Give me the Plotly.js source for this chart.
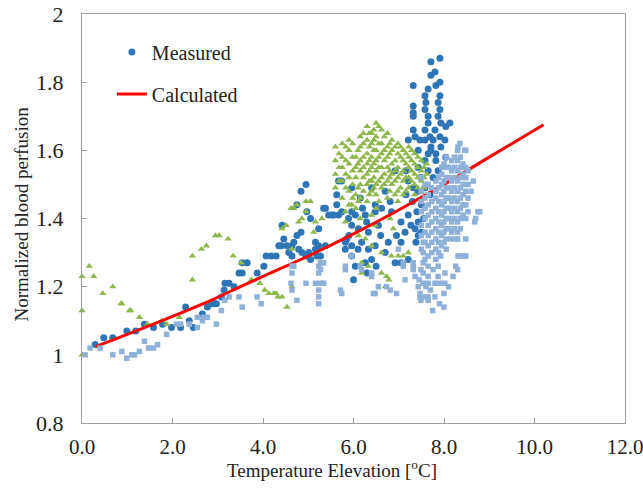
<!DOCTYPE html>
<html>
<head>
<meta charset="utf-8">
<script src="https://cdn.plot.ly/plotly-3.0.1.min.js"></script>
<style>html,body{margin:0;padding:0;background:#fff;}#chart{width:643px;height:493px;}</style>
</head>
<body>
<div id="chart"></div>
<script>
// Measured – dark blue circles [temperature elevation, normalized perfusion]
const measuredCircles = [
[0.29,1.03],[0.48,1.05],[0.68,1.05],[0.99,1.07],[1.19,1.07],[1.38,1.09],[1.58,1.08],[1.78,1.09],[1.98,1.08],[2.18,1.08],
[2.29,1.14],[2.37,1.10],[2.46,1.08],[2.66,1.12],[2.77,1.14],[2.86,1.15],[2.92,1.15],[2.97,1.15],[3.08,1.17],[3.14,1.19],
[3.16,1.21],[3.25,1.21],[3.36,1.20],[3.47,1.24],[3.54,1.24],[3.54,1.27],[3.65,1.27],[3.87,1.24],[4.02,1.26],[4.07,1.29],
[4.18,1.29],[4.29,1.29],[4.35,1.32],[4.40,1.32],[4.42,1.38],[4.46,1.34],[4.53,1.32],[4.57,1.30],[4.64,1.32],[4.64,1.29],
[4.68,1.33],[4.75,1.35],[4.75,1.44],[4.79,1.31],[4.84,1.36],[4.84,1.48],[4.86,1.30],[4.95,1.29],[4.95,1.50],[4.97,1.42],
[5.01,1.30],[5.05,1.40],[5.05,1.28],[5.16,1.33],[5.16,1.31],[5.19,1.29],[5.23,1.37],[5.23,1.32],[5.27,1.29],[5.34,1.43],
[5.38,1.32],[5.38,1.43],[5.45,1.41],[5.52,1.41],[5.56,1.41],[5.63,1.47],[5.63,1.44],[5.67,1.41],[5.67,1.51],[5.74,1.51],
[5.74,1.42],[5.82,1.33],[5.82,1.31],[5.85,1.34],[5.89,1.40],[5.90,1.35],[5.96,1.49],[5.96,1.42],[5.96,1.38],[5.96,1.32],
[5.96,1.29],[6.00,1.22],[6.04,1.41],[6.04,1.26],[6.10,1.31],[6.11,1.37],[6.15,1.46],[6.18,1.33],[6.20,1.43],[6.26,1.41],
[6.26,1.27],[6.29,1.39],[6.30,1.24],[6.33,1.36],[6.33,1.31],[6.40,1.49],[6.40,1.28],[6.48,1.44],[6.48,1.42],[6.48,1.32],
[6.50,1.26],[6.55,1.38],[6.60,1.35],[6.62,1.43],[6.70,1.48],[6.70,1.30],[6.77,1.33],[6.81,1.45],[6.84,1.42],[6.92,1.54],
[6.92,1.27],[6.95,1.35],[7.05,1.33],[7.05,1.39],[7.05,1.27],[7.14,1.36],[7.16,1.54],[7.16,1.47],[7.21,1.41],[7.21,1.28],
[7.21,1.51],[7.21,1.63],[7.27,1.38],[7.30,1.45],[7.32,1.66],[7.32,1.79],[7.32,1.73],[7.32,1.71],[7.32,1.70],[7.32,1.49],
[7.36,1.64],[7.36,1.37],[7.38,1.33],[7.40,1.42],[7.43,1.39],[7.43,1.35],[7.43,1.60],[7.43,1.55],[7.43,1.48],[7.47,1.63],
[7.49,1.52],[7.50,1.44],[7.50,1.36],[7.55,1.40],[7.58,1.76],[7.58,1.72],[7.58,1.66],[7.58,1.63],[7.58,1.57],[7.58,1.49],
[7.60,1.74],[7.65,1.78],[7.65,1.70],[7.65,1.68],[7.65,1.59],[7.65,1.54],[7.69,1.64],[7.69,1.47],[7.71,1.86],[7.71,1.82],
[7.71,1.61],[7.71,1.60],[7.76,1.63],[7.76,1.52],[7.80,1.83],[7.80,1.66],[7.82,1.79],[7.82,1.59],[7.82,1.57],[7.87,1.74],
[7.87,1.70],[7.87,1.54],[7.91,1.87],[7.91,1.80],[7.91,1.76],[7.91,1.72],[7.91,1.64],[7.93,1.68],[7.93,1.61],[8.02,1.63],
[8.04,1.67],[8.04,1.58],[8.13,1.68]
];

// Measured – light blue squares
const measuredSquares = [
[0.07,1.00],[0.18,1.02],[0.40,1.02],[0.68,1.00],[0.88,1.01],[0.99,0.99],[1.10,1.00],[1.16,1.00],[1.27,1.01],[1.38,1.04],
[1.47,1.02],[1.58,1.02],[1.67,1.03],[1.87,1.06],[2.09,1.09],[2.18,1.09],[2.37,1.09],[2.55,1.08],[2.55,1.11],[2.66,1.10],
[2.68,1.11],[2.77,1.11],[2.97,1.09],[3.08,1.13],[3.16,1.16],[3.25,1.17],[3.47,1.17],[3.54,1.14],[3.87,1.17],[3.96,1.15],
[4.62,1.21],[4.64,1.26],[4.64,1.24],[4.64,1.19],[4.68,1.26],[4.75,1.16],[4.95,1.21],[5.16,1.21],[5.23,1.26],[5.23,1.24],
[5.23,1.19],[5.23,1.17],[5.23,1.15],[5.27,1.27],[5.27,1.25],[5.27,1.21],[5.34,1.21],[5.34,1.27],[5.71,1.19],[5.74,1.18],
[5.82,1.25],[5.82,1.26],[5.96,1.29],[6.15,1.26],[6.18,1.25],[6.40,1.23],[6.40,1.24],[6.44,1.18],[6.48,1.18],[6.55,1.20],
[6.73,1.20],[6.81,1.19],[6.95,1.18],[6.99,1.31],[7.10,1.26],[7.10,1.27],[7.14,1.22],[7.32,1.27],[7.32,1.25],[7.32,1.26],
[7.36,1.23],[7.43,1.20],[7.45,1.22],[7.47,1.18],[7.47,1.17],[7.49,1.16],[7.49,1.25],[7.54,1.17],[7.54,1.27],[7.54,1.21],
[7.54,1.33],[7.54,1.30],[7.54,1.24],[7.58,1.28],[7.60,1.20],[7.65,1.16],[7.65,1.17],[7.65,1.23],[7.65,1.21],[7.70,1.19],
[7.75,1.13],[7.76,1.25],[7.80,1.21],[7.80,1.17],[7.87,1.26],[7.87,1.23],[7.90,1.15],[7.91,1.21],[7.93,1.29],[8.00,1.18],
[8.00,1.14],[8.02,1.21],[8.02,1.24],[8.10,1.20],[8.20,1.23],[8.26,1.26],[8.30,1.25],[8.31,1.29],[8.42,1.29],[8.48,1.34],
[8.68,1.39],[8.79,1.42],
[7.50,1.52],[7.50,1.48],[7.50,1.45],[7.50,1.42],[7.50,1.38],[7.50,1.35],[7.50,1.31],
[7.58,1.50],[7.58,1.46],[7.58,1.43],[7.58,1.40],[7.58,1.36],[7.58,1.33],
[7.65,1.50],[7.65,1.47],[7.65,1.44],[7.65,1.41],[7.65,1.38],[7.65,1.35],[7.65,1.32],[7.65,1.29],[7.65,1.26],
[7.73,1.49],[7.73,1.45],[7.73,1.42],[7.73,1.39],[7.73,1.36],[7.73,1.33],[7.73,1.30],
[7.82,1.51],[7.82,1.48],[7.82,1.46],[7.82,1.43],[7.82,1.40],[7.82,1.37],[7.82,1.34],[7.82,1.31],[7.82,1.28],
[7.88,1.52],[7.88,1.49],[7.88,1.45],[7.88,1.42],[7.88,1.39],[7.88,1.36],[7.88,1.33],[7.88,1.30],
[7.95,1.55],[7.95,1.53],[7.95,1.50],[7.95,1.47],[7.95,1.44],[7.95,1.41],[7.95,1.38],[7.95,1.35],[7.95,1.32],
[8.00,1.56],[8.00,1.51],[8.00,1.48],[8.00,1.45],[8.00,1.42],[8.00,1.39],[8.00,1.36],[8.00,1.33],
[8.05,1.58],[8.05,1.55],[8.05,1.52],[8.05,1.49],[8.05,1.46],[8.05,1.43],[8.05,1.40],[8.05,1.37],[8.05,1.34],[8.05,1.31],
[8.11,1.55],[8.11,1.52],[8.11,1.49],[8.11,1.46],[8.11,1.43],[8.11,1.40],[8.11,1.37],
[8.17,1.57],[8.17,1.54],[8.17,1.51],[8.17,1.48],[8.17,1.45],[8.17,1.42],[8.17,1.39],[8.17,1.36],[8.17,1.34],
[8.23,1.58],[8.23,1.55],[8.23,1.52],[8.23,1.49],[8.23,1.46],[8.23,1.43],[8.23,1.40],[8.23,1.37],
[8.30,1.60],[8.30,1.57],[8.30,1.54],[8.30,1.51],[8.30,1.48],[8.30,1.45],[8.30,1.42],[8.30,1.39],[8.30,1.36],[8.30,1.34],
[8.36,1.58],[8.36,1.55],[8.36,1.52],[8.36,1.49],[8.36,1.46],[8.36,1.43],[8.36,1.40],[8.36,1.37],
[8.42,1.56],[8.42,1.53],[8.42,1.50],[8.42,1.47],[8.42,1.44],[8.42,1.41],
[8.48,1.55],[8.48,1.52],[8.48,1.48],[8.48,1.44],[8.48,1.40],
[8.53,1.54],[8.53,1.50],[8.53,1.46],[8.53,1.42],
[8.35,1.62],[8.31,1.61],[8.46,1.60],[8.48,1.60],[8.75,1.42],[8.70,1.40],[8.29,1.34],[8.35,1.29],[8.48,1.29],[8.60,1.48],[8.65,1.51]
];

// Measured – green triangles
const measuredTriangles = [
[0.00,1.00],[0.00,1.23],[0.00,1.13],[0.16,1.26],[0.26,1.23],[0.46,1.18],[0.68,1.20],[0.86,1.15],[0.88,1.15],[1.05,1.13],
[1.08,1.13],[1.27,1.11],[1.45,1.09],[1.76,1.10],[1.87,1.09],[2.15,1.11],[2.44,1.22],[2.44,1.29],[2.64,1.31],[2.75,1.32],
[2.95,1.35],[3.03,1.35],[3.23,1.34],[3.34,1.29],[3.52,1.27],[3.74,1.22],[3.93,1.21],[4.04,1.19],[4.13,1.18],[4.24,1.18],
[4.29,1.18],[4.33,1.17],[4.42,1.17],[4.53,1.14],[4.64,1.20],[4.64,1.31],[4.42,1.37],[4.51,1.38],[4.62,1.43],[4.68,1.43],
[4.75,1.44],[4.79,1.39],[4.86,1.40],[4.95,1.45],[4.95,1.42],[5.05,1.45],[5.12,1.36],[5.16,1.39],[5.30,1.40],[5.82,1.39],
[5.82,1.42],[5.96,1.44],[6.11,1.45],[6.40,1.41],[6.48,1.38],[6.81,1.40],[6.88,1.37],[6.11,1.35],[6.26,1.34],[6.40,1.32],
[6.62,1.30],[6.84,1.29],[6.99,1.29],[7.10,1.29],[7.21,1.30],[6.18,1.27],[6.33,1.26],[6.18,1.24],[6.62,1.24],[6.73,1.23],
[6.70,1.20],[6.78,1.22],
[5.60,1.61],[5.60,1.57],[5.60,1.53],[5.60,1.49],
[5.68,1.59],[5.68,1.55],[5.68,1.51],
[5.75,1.62],[5.75,1.58],[5.75,1.55],[5.75,1.51],[5.75,1.46],
[5.83,1.61],[5.83,1.57],[5.83,1.53],[5.83,1.49],
[5.90,1.63],[5.90,1.60],[5.90,1.56],[5.90,1.52],[5.90,1.48],[5.90,1.44],
[5.98,1.62],[5.98,1.58],[5.98,1.54],[5.98,1.50],[5.98,1.46],
[6.05,1.58],[6.05,1.55],[6.05,1.52],[6.05,1.47],[6.05,1.43],
[6.10,1.60],[6.10,1.56],[6.10,1.49],
[6.15,1.64],[6.15,1.61],[6.15,1.57],[6.15,1.54],[6.15,1.50],[6.15,1.46],[6.15,1.40],
[6.22,1.65],[6.22,1.62],[6.22,1.58],[6.22,1.55],[6.22,1.52],[6.22,1.48],
[6.30,1.67],[6.30,1.63],[6.30,1.59],[6.30,1.56],[6.30,1.53],[6.30,1.50],[6.30,1.45],
[6.35,1.65],[6.35,1.61],[6.35,1.57],[6.35,1.54],[6.35,1.51],[6.35,1.47],
[6.40,1.65],[6.40,1.62],[6.40,1.58],[6.40,1.55],[6.40,1.51],[6.40,1.48],
[6.45,1.66],[6.45,1.63],[6.45,1.60],[6.45,1.56],[6.45,1.52],[6.45,1.49],
[6.50,1.68],[6.50,1.64],[6.50,1.60],[6.50,1.57],[6.50,1.54],[6.50,1.50],[6.50,1.47],[6.50,1.43],
[6.56,1.67],[6.56,1.62],[6.56,1.58],[6.56,1.55],[6.56,1.51],[6.56,1.45],
[6.62,1.66],[6.62,1.62],[6.62,1.59],[6.62,1.55],[6.62,1.52],[6.62,1.49],
[6.68,1.64],[6.68,1.60],[6.68,1.57],[6.68,1.53],[6.68,1.50],
[6.75,1.65],[6.75,1.61],[6.75,1.58],[6.75,1.55],[6.75,1.51],[6.75,1.46],
[6.80,1.62],[6.80,1.59],[6.80,1.54],[6.80,1.52],[6.80,1.48],
[6.85,1.63],[6.85,1.60],[6.85,1.56],[6.85,1.53],[6.85,1.50],
[6.92,1.61],[6.92,1.57],[6.92,1.54],[6.92,1.51],[6.92,1.47],
[6.98,1.62],[6.98,1.59],[6.98,1.55],[6.98,1.52],[6.98,1.48],[6.98,1.45],
[7.04,1.61],[7.04,1.58],[7.04,1.53],[7.04,1.49],
[7.10,1.60],[7.10,1.57],[7.10,1.54],[7.10,1.51],[7.10,1.47],
[7.16,1.59],[7.16,1.56],[7.16,1.52],[7.16,1.48],
[7.22,1.61],[7.22,1.58],[7.22,1.55],[7.22,1.52],[7.22,1.49],
[7.28,1.60],[7.28,1.57],[7.28,1.54],[7.28,1.51],
[7.35,1.59],[7.35,1.56],[7.35,1.53],[7.35,1.50],[7.35,1.47],
[7.42,1.58],[7.42,1.55],[7.42,1.52],[7.42,1.49],
[7.50,1.57],[7.50,1.54],[7.50,1.51],[7.50,1.48],
[7.56,1.55],[7.56,1.52],[7.56,1.49],
[7.62,1.56],[7.62,1.53],[7.62,1.50]
];

// Calculated curve
const calcX = [0.3, 1.0, 2.0, 2.9, 3.5, 4.0, 5.0, 6.0, 7.0, 8.0, 9.0, 10.2];
const calcY = [1.024, 1.06, 1.113, 1.163, 1.20, 1.23, 1.29, 1.355, 1.425, 1.50, 1.58, 1.675];

const xTicks = [0, 2, 4, 6, 8, 10, 12];
const xTickText = ['0.0', '2.0', '4.0', '6.0', '8.0', '10.0', '12.0'];
const yTicks = [0.8, 1.0, 1.2, 1.4, 1.6, 1.8, 2.0];
const yTickText = ['0.8', '1', '1.2', '1.4', '1.6', '1.8', '2'];

const FONT = 'Liberation Serif, Times New Roman, serif';
const col = a => a.map(p => p[0]);
const val = a => a.map(p => p[1]);

const traces = [
  {x: col(measuredCircles), y: val(measuredCircles), type: 'scatter', mode: 'markers', name: 'Measured',
   legendgroup: 'm', cliponaxis: false, marker: {symbol: 'circle', size: 7, color: 'rgb(46,117,182)'}},
  {x: col(measuredTriangles), y: val(measuredTriangles), type: 'scatter', mode: 'markers', name: 'Measured',
   legendgroup: 'm', showlegend: false, cliponaxis: false, marker: {symbol: 'triangle-up', size: 6.5, color: 'rgb(141,184,76)'}},
  {x: calcX, y: calcY, type: 'scatter', mode: 'lines', name: 'Calculated', legendgroup: 'c',
   line: {color: '#ff0000', width: 3, shape: 'spline'}},
  {x: col(measuredSquares), y: val(measuredSquares), type: 'scatter', mode: 'markers', name: 'Measured',
   legendgroup: 'm', showlegend: false, cliponaxis: false, marker: {symbol: 'square', size: 5.5, color: 'rgb(143,177,217)'}}
];

const layout = {
  width: 643, height: 493,
  margin: {l: 82, r: 18, t: 14, b: 70},
  paper_bgcolor: '#fff', plot_bgcolor: '#fff',
  font: {family: FONT, size: 21, color: '#222'},
  showlegend: true,
  legend: {x: 0.055, y: 0.955, xanchor: 'left', yanchor: 'top', bgcolor: 'rgba(0,0,0,0)',
           font: {family: FONT, size: 20, color: '#222'}, traceorder: 'grouped', tracegroupgap: 13},
  xaxis: {range: [0, 12], tickvals: xTicks, ticktext: xTickText, ticks: 'inside', ticklen: 5,
          tickcolor: '#a0a0a0', showline: true, linecolor: '#a0a0a0', linewidth: 1, mirror: true,
          showgrid: false, zeroline: false, ticklabelstandoff: 5, ticklabeloverflow: 'allow',
          tickfont: {family: FONT, size: 21, color: '#222'}},
  yaxis: {range: [0.8, 2], tickvals: yTicks, ticktext: yTickText, ticks: 'inside', ticklen: 5,
          tickcolor: '#a0a0a0', showline: true, linecolor: '#a0a0a0', linewidth: 1, mirror: true,
          showgrid: false, zeroline: false, ticklabelstandoff: 13, ticklabeloverflow: 'allow',
          tickfont: {family: FONT, size: 22, color: '#222'}},
  annotations: [
    {text: 'Temperature Elevation [<sup>o</sup>C]', xref: 'paper', yref: 'paper', x: 0.46, y: 0, xanchor: 'center',
     yanchor: 'middle', yshift: -46, showarrow: false, font: {family: FONT, size: 19, color: '#222'}},
    {text: 'Normalized blood perfusion', xref: 'paper', yref: 'paper', x: 0, y: 0.5, xanchor: 'center',
     yanchor: 'middle', xshift: -61, yshift: 4, textangle: -90, showarrow: false,
     font: {family: FONT, size: 19, color: '#222'}}
  ]
};

Plotly.newPlot('chart', traces, layout, {displayModeBar: false, staticPlot: true});
</script>
</body>
</html>
